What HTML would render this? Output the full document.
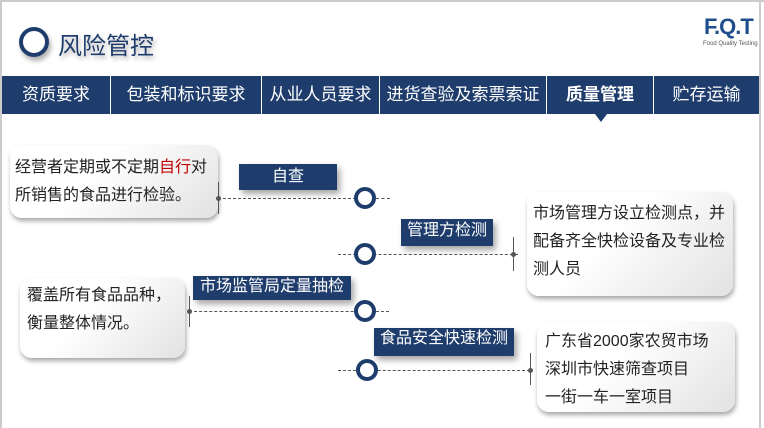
<!DOCTYPE html>
<html><head><meta charset="utf-8"><style>
*{margin:0;padding:0;box-sizing:border-box}
body{width:764px;height:428px;background:#fff;position:relative;overflow:hidden;font-family:"Liberation Sans","Noto Sans CJK SC",sans-serif}
.a{position:absolute}
.nav{position:absolute;top:76px;height:38px;background:#1f3d6c;color:#fff;font-size:17px;line-height:38px;text-align:center}
.box{position:absolute;border-radius:12px;background:linear-gradient(135deg,#fff 40%,#e2e2e2);box-shadow:1px 3px 5px rgba(0,0,0,.35);font-size:16px;color:#222;line-height:28px;white-space:nowrap}
.lab{position:absolute;background:#1f3d6c;color:#fff;font-size:16px;text-align:center;box-shadow:3px 4px 6px rgba(0,0,0,.35)}
.c{position:absolute;width:22px;height:22px;border:4px solid #1f3d6c;border-radius:50%;background:#fff}
.d{position:absolute;height:0;border-top:1px dashed #555}
.v{position:absolute;width:1px;background:#555}
.dot{position:absolute;width:5px;height:5px;border-radius:50%;background:#555}
</style></head><body>
<div class="a" style="left:0;top:0;width:764px;height:2px;background:#ccc"></div>
<div class="a" style="left:0;top:0;width:2px;height:428px;background:#ccc"></div>
<div class="a" style="left:759px;top:0;width:2px;height:428px;background:#ccc"></div>
<div class="a" style="left:19px;top:27px;width:30px;height:30px;border:4px solid #1f3d6c;border-radius:50%;box-shadow:2px 4px 5px rgba(0,0,0,.3)"></div>
<div class="a" style="left:58px;top:26px;font-size:24px;color:#1f3d6c;text-shadow:2px 3px 4px rgba(0,0,0,.3)">风险管控</div>
<div class="a" style="left:704px;top:14px;font-size:22px;font-weight:bold;color:#1f4e8c;letter-spacing:-1px">F.Q.T</div>
<div class="a" style="left:703px;top:41px;font-size:6px;color:#555">Food Quality Testing</div>
<div class="nav" style="left:2px;width:108px">资质要求</div>
<div class="nav" style="left:111px;width:150px">包装和标识要求</div>
<div class="nav" style="left:262px;width:117px">从业人员要求</div>
<div class="nav" style="left:380px;width:166px">进货查验及索票索证</div>
<div class="nav" style="left:547px;width:106px;font-weight:bold">质量管理</div>
<div class="nav" style="left:654px;width:105px">贮存运输</div>
<div class="a" style="left:595px;top:114px;border-left:6px solid transparent;border-right:6px solid transparent;border-top:8px solid #1f3d6c"></div>

<div class="box" style="left:10px;top:145px;width:208px;height:73px;padding:9px 0 0 5px">经营者定期或不定期<span style="color:#c00000">自行</span>对<br>所销售的食品进行检验。</div>
<div class="box" style="left:20px;top:278px;width:165px;height:80px;padding:4px 0 0 7px">覆盖所有食品品种，<br>衡量整体情况。</div>
<div class="box" style="left:527px;top:192px;width:206px;height:104px;padding:8px 0 0 6px">市场管理方设立检测点，并<br>配备齐全快检设备及专业检<br>测人员</div>
<div class="box" style="left:537px;top:322px;width:198px;height:90px;padding:6px 0 0 8px">广东省2000家农贸市场<br>深圳市快速筛查项目<br>一街一车一室项目</div>

<div class="v" style="left:218px;top:182px;height:32px"></div><div class="dot" style="left:216px;top:196px"></div>
<div class="d" style="left:218px;top:198px;width:148px"></div><div class="d" style="left:376px;top:198px;width:14px"></div>
<div class="d" style="left:338px;top:254px;width:180px"></div>
<div class="v" style="left:513px;top:237px;height:34px"></div><div class="dot" style="left:511px;top:252px"></div>
<div class="v" style="left:189px;top:296px;height:31px"></div><div class="dot" style="left:187px;top:309px"></div>
<div class="d" style="left:189px;top:311px;width:200px"></div>
<div class="d" style="left:338px;top:370px;width:192px"></div>
<div class="v" style="left:530px;top:353px;height:32px"></div><div class="dot" style="left:528px;top:368px"></div>

<div class="c" style="left:354px;top:187px"></div>
<div class="c" style="left:354px;top:243px"></div>
<div class="c" style="left:354px;top:300px"></div>
<div class="c" style="left:356px;top:359px"></div>

<div class="lab" style="left:239px;top:164px;width:98px;height:26px;line-height:26px">自查</div>
<div class="lab" style="left:401px;top:219px;width:92px;height:27px;line-height:24px">管理方检测</div>
<div class="lab" style="left:193px;top:276px;width:158px;height:24px;line-height:22px">市场监管局定量抽检</div>
<div class="lab" style="left:374px;top:328px;width:140px;height:28px;line-height:22px">食品安全快速检测</div>
</body></html>
